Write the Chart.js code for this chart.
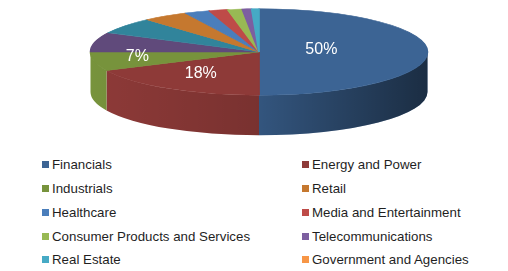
<!DOCTYPE html>
<html>
<head>
<meta charset="utf-8">
<script src="https://cdn.jsdelivr.net/npm/chart.js@4/dist/chart.umd.min.js"></script>
<style>
  html, body { margin: 0; padding: 0; background: #fff; }
  #wrap { position: relative; width: 508px; height: 271px; overflow: hidden; }
  #pie { position: absolute; left: 0; top: 0; }
  #legend {
    position: absolute; left: 42px; top: 153px;
    display: grid; grid-template-columns: 260px 200px; grid-auto-rows: 23.75px;
    font: 13.3px "Liberation Sans", Arial, sans-serif; color: #1f1f1f;
  }
  .item { display: flex; align-items: center; white-space: nowrap; }
  .box { width: 7px; height: 7px; margin-right: 3px; flex: none; }
</style>
</head>
<body>
<div id="wrap">
  <canvas id="pie" width="508" height="150"></canvas>
  <div id="legend"></div>
</div>
<script>
// slices in drawing order (clockwise from 12 o'clock); two slices have no legend entry
const categories = ['Financials', 'Energy and Power', 'Industrials', '', '', 'Retail', 'Healthcare',
  'Media and Entertainment', 'Consumer Products and Services', 'Telecommunications', 'Real Estate',
  'Government and Agencies'];
const shares = [50, 18, 7, 7.3, 6.1, 4.4, 2.4, 1.8, 1.4, 0.9, 0.7, 0];
const sliceColors = ['#3c6494', '#8e3a38', '#77933c', '#604a7b', '#31849b', '#c5782f', '#4a7ebb',
  '#be4b48', '#98b954', '#7d5fa0', '#46aac5', '#f79646'];

// look of the tilted pie
const RX = 168.5, RY = 43.3, DEPTH = 40;

const tilt3d = {
  id: 'tilt3d',
  beforeDatasetsDraw(chart) {
    const ctx = chart.ctx;
    const arcs = chart.getDatasetMeta(0).data;
    const cx = arcs[0].x, cy = arcs[0].y, r = arcs[0].outerRadius;

    // side walls, only the front half can be seen
    const shade = ctx.createLinearGradient(cx - RX, 0, cx + RX, 0);
    shade.addColorStop(0, 'rgba(0,0,0,0)');
    shade.addColorStop(0.5, 'rgba(0,0,0,0.15)');
    shade.addColorStop(1, 'rgba(0,0,0,0.55)');
    arcs.forEach((arc, i) => {
      const a = Math.max(arc.startAngle, 0), b = Math.min(arc.endAngle, Math.PI);
      if (b <= a) return;
      ctx.beginPath();
      ctx.ellipse(cx, cy, RX, RY, 0, a, b);
      ctx.ellipse(cx, cy + DEPTH, RX, RY, 0, b, a, true);
      ctx.closePath();
      ctx.fillStyle = sliceColors[i];
      ctx.fill();
      ctx.fillStyle = shade;
      ctx.fill();
    });

    // squash the top face into an ellipse
    ctx.save();
    ctx.translate(cx, cy);
    ctx.scale(RX / r, RY / r);
    ctx.translate(-cx, -cy);
  },
  afterDatasetsDraw(chart) {
    const ctx = chart.ctx;
    ctx.restore();

    const arcs = chart.getDatasetMeta(0).data;
    const cx = arcs[0].x, cy = arcs[0].y;
    const total = shares.reduce((s, v) => s + v, 0);
    ctx.save();
    ctx.font = '16px "Liberation Sans", Arial, sans-serif';
    ctx.fillStyle = '#fff';
    ctx.textAlign = 'center';
    ctx.textBaseline = 'middle';
    arcs.forEach((arc, i) => {
      const pct = shares[i] / total * 100;
      if (!categories[i] || pct < 5) return;
      const mid = (arc.startAngle + arc.endAngle) / 2;
      const f = 0.8 - 0.0086 * pct;
      ctx.fillText(Math.round(pct) + '%', cx + Math.cos(mid) * RX * f, cy + Math.sin(mid) * RY * f - 2);
    });
    ctx.restore();
  }
};

new Chart(document.getElementById('pie'), {
  type: 'pie',
  data: {
    labels: categories,
    datasets: [{
      data: shares,
      backgroundColor: sliceColors,
      borderColor: sliceColors,
      borderWidth: 0.5,
      clip: false
    }]
  },
  options: {
    responsive: false,
    animation: false,
    layout: { padding: { left: 10, right: 0, top: 0, bottom: 46 } },
    plugins: {
      legend: { display: false },
      tooltip: { enabled: false }
    }
  },
  plugins: [tilt3d]
});

// legend: two columns, row by row
const legend = document.getElementById('legend');
categories.forEach((name, i) => {
  if (!name) return;
  const item = document.createElement('div');
  item.className = 'item';
  const box = document.createElement('span');
  box.className = 'box';
  box.style.background = sliceColors[i];
  item.appendChild(box);
  item.appendChild(document.createTextNode(name));
  legend.appendChild(item);
});
</script>
</body>
</html>
